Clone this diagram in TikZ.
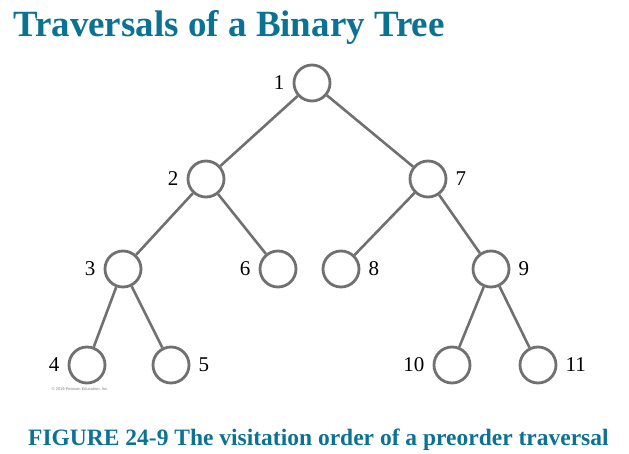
\documentclass[tikz,border=0pt]{standalone}
\usepackage{fontspec}
\setmainfont{Liberation Serif}
\setsansfont{Liberation Sans}
\usepackage{xcolor}
\definecolor{titleblue}{RGB}{12,114,148}
\definecolor{treegray}{RGB}{112,112,112}
\usepackage{tikz}
\usetikzlibrary{positioning}

\begin{document}
\begin{tikzpicture}[
  x=1pt, y=-1pt,
  vertex/.style={circle, draw=treegray, line width=2.8pt, minimum size=36pt, inner sep=0pt},
  edge/.style={draw=treegray, line width=2.6pt},
  lbl/.style={font=\fontsize{21}{24}\selectfont, text=black, inner sep=0pt},
  ttl/.style={font=\fontsize{37}{40}\selectfont\bfseries, text=titleblue, inner sep=0pt},
  figcap/.style={font=\fontsize{23.5}{26}\selectfont\bfseries, text=titleblue, inner sep=0pt}
]
  \useasboundingbox (0,0) rectangle (629,454);

  \node[ttl, anchor=base west] (title) at (13,37) {Traversals of a Binary Tree};

  % tree nodes, numbered in preorder
  \node[vertex, label={[lbl, label distance=8pt]left:1}] (n1) at (312,83) {};
  \node[vertex, label={[lbl, label distance=8pt]left:2}] (n2) at (206,179) {};
  \node[vertex, label={[lbl, label distance=8pt]right:7}] (n7) at (428,179) {};
  \node[vertex, label={[lbl, label distance=8pt]left:3}] (n3) at (123,269) {};
  \node[vertex, label={[lbl, label distance=8pt]left:6}] (n6) at (278,269) {};
  \node[vertex, label={[lbl, label distance=8pt]right:8}] (n8) at (341,269) {};
  \node[vertex, label={[lbl, label distance=8pt]right:9}] (n9) at (491,269) {};
  \node[vertex, label={[lbl, label distance=8pt]left:4}] (n4) at (87,365) {};
  \node[vertex, label={[lbl, label distance=8pt]right:5}] (n5) at (171,365) {};
  \node[vertex, label={[lbl, label distance=8pt]left:10}] (n10) at (452,365) {};
  \node[vertex, label={[lbl, label distance=8pt]right:11}] (n11) at (538,365) {};

  \draw[edge] (n1) -- (n2);
  \draw[edge] (n1) -- (n7);
  \draw[edge] (n2) -- (n3);
  \draw[edge] (n2) -- (n6);
  \draw[edge] (n7) -- (n8);
  \draw[edge] (n7) -- (n9);
  \draw[edge] (n3) -- (n4);
  \draw[edge] (n3) -- (n5);
  \draw[edge] (n9) -- (n10);
  \draw[edge] (n9) -- (n11);

  \node[font=\sffamily\fontsize{4}{5}\selectfont, text=gray, inner sep=0pt] (copy) at (80,389) {\textcopyright{} 2019 Pearson Education, Inc.};

  \node[figcap, anchor=base west] (caption) at (28,445) {FIGURE 24-9 The visitation order of a preorder traversal};
\end{tikzpicture}
\end{document}
